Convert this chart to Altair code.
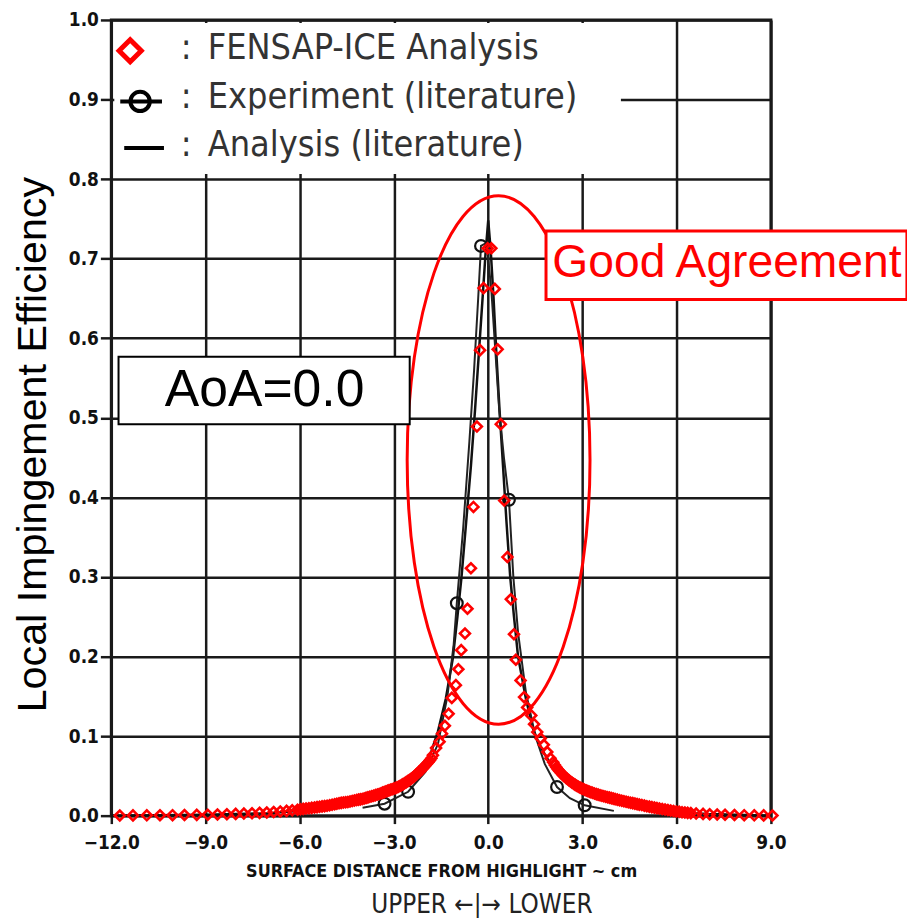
import altair as alt
import pandas as pd

# ---------------- data ----------------
# FENSAP-ICE analysis (red open diamonds)
fensap_x = [
    -11.73, -11.31, -10.87, -10.45, -10.05, -9.67, -9.28, -8.93, -8.62, -8.32,
    -8.04, -7.78, -7.52, -7.28, -7.05, -6.83, -6.62, -6.42, -6.24, -6.07,
    -5.98, -5.89, -5.80, -5.71, -5.62, -5.53, -5.45, -5.37, -5.29, -5.21,
    -5.13, -5.05, -4.97, -4.89, -4.82, -4.75, -4.68, -4.61, -4.54, -4.47,
    -4.40, -4.33, -4.26, -4.19, -4.13, -4.07, -4.01, -3.95, -3.89, -3.83,
    -3.77, -3.71, -3.65, -3.59, -3.53, -3.47, -3.41, -3.36, -3.31, -3.26,
    -3.21, -3.16, -3.11, -3.06, -3.01, -2.96, -2.91, -2.86, -2.81, -2.76,
    -2.71, -2.66, -2.61, -2.56, -2.51, -2.46, -2.41, -2.36, -2.31, -2.26,
    -2.21, -2.16, -2.11, -2.06, -2.01, -1.96, -1.91, -1.86, -1.81,
    -1.76, -1.66, -1.55, -1.47, -1.38, -1.26, -1.16, -1.03,
    -0.95, -0.86, -0.74, -0.66, -0.55, -0.47, -0.36, -0.26, -0.15, -0.02,
    0.10, 0.21, 0.30, 0.40, 0.51, 0.61, 0.72, 0.82, 0.88, 1.03,
    1.14, 1.24, 1.37, 1.46, 1.56, 1.67, 1.77, 1.88, 1.98, 2.07,
    2.12, 2.17, 2.22, 2.27, 2.32, 2.37, 2.42, 2.47, 2.52, 2.57,
    2.62, 2.67, 2.72, 2.77, 2.82, 2.87, 2.92, 2.97, 3.02, 3.07,
    3.12, 3.17, 3.22, 3.27, 3.32, 3.38, 3.44, 3.50, 3.56, 3.62,
    3.68, 3.74, 3.80, 3.86, 3.92, 3.98, 4.04, 4.11, 4.18, 4.25,
    4.32, 4.39, 4.46, 4.53, 4.60, 4.67, 4.74, 4.81, 4.89, 4.97,
    5.05, 5.13, 5.21, 5.29, 5.37, 5.45, 5.54, 5.63, 5.72, 5.81,
    5.90, 5.99, 6.08, 6.17, 6.26, 6.35,
    6.45, 6.62, 6.84, 7.05, 7.29, 7.54, 7.84, 8.15, 8.47, 8.77, 9.05,
]
fensap_y = [
    0.0002, 0.0003, 0.0004, 0.0005, 0.0006, 0.0008, 0.0010, 0.0012, 0.0015, 0.0018,
    0.0022, 0.0026, 0.0030, 0.0035, 0.0040, 0.0046, 0.0053, 0.0060, 0.0068, 0.0075,
    0.0081, 0.0085, 0.0089, 0.0093, 0.0098, 0.0102, 0.0107, 0.0111, 0.0116, 0.0120,
    0.0125, 0.0130, 0.0137, 0.0143, 0.0149, 0.0155, 0.0160, 0.0165, 0.0168, 0.0172,
    0.0178, 0.0184, 0.0190, 0.0196, 0.0201, 0.0205, 0.0209, 0.0216, 0.0223, 0.0230,
    0.0237, 0.0244, 0.0251, 0.0258, 0.0265, 0.0273, 0.0281, 0.0289, 0.0296, 0.0304,
    0.0311, 0.0318, 0.0325, 0.0332, 0.0339, 0.0346, 0.0354, 0.0363, 0.0373, 0.0384,
    0.0396, 0.0408, 0.0421, 0.0434, 0.0447, 0.0461, 0.0476, 0.0492, 0.0510, 0.0528,
    0.0547, 0.0566, 0.0585, 0.0605, 0.0626, 0.0648, 0.0670, 0.0694, 0.0720,
    0.076, 0.085, 0.093, 0.103, 0.113, 0.128, 0.148, 0.164,
    0.184, 0.208, 0.229, 0.260, 0.311, 0.388, 0.489, 0.585, 0.663, 0.713,
    0.713, 0.662, 0.586, 0.492, 0.396, 0.325, 0.272, 0.228, 0.196, 0.170,
    0.149, 0.136, 0.126, 0.115, 0.105, 0.097, 0.089, 0.080, 0.072, 0.067,
    0.0635, 0.0607, 0.0581, 0.0557, 0.0535, 0.0514, 0.0495, 0.0477, 0.0460, 0.0444,
    0.0429, 0.0414, 0.0400, 0.0387, 0.0375, 0.0364, 0.0353, 0.0343, 0.0334, 0.0325,
    0.0317, 0.0309, 0.0301, 0.0294, 0.0287, 0.0279, 0.0271, 0.0264, 0.0257, 0.0250,
    0.0244, 0.0238, 0.0232, 0.0226, 0.0220, 0.0214, 0.0208, 0.0201, 0.0194, 0.0187,
    0.0181, 0.0175, 0.0169, 0.0163, 0.0157, 0.0151, 0.0145, 0.0139, 0.0133, 0.0126,
    0.0119, 0.0113, 0.0107, 0.0101, 0.0095, 0.0089, 0.0083, 0.0077, 0.0071, 0.0065,
    0.0059, 0.0053, 0.0048, 0.0043, 0.0039, 0.0035,
    0.0032, 0.0027, 0.0022, 0.0018, 0.0014, 0.0011, 0.0008, 0.0006, 0.0004, 0.0003, 0.0002,
]

# Experiment (literature): measured curve and its circle markers
exp_curve_x = [-4.0, -3.3, -2.55, -2.0, -1.6, -1.3, -1.1, -1.0, -0.8, -0.6,
               -0.45, -0.32, -0.23, -0.05, 0.10, 0.20, 0.35, 0.50, 0.66, 0.80,
               0.95, 1.20, 1.50, 1.80, 2.19, 2.60, 3.07, 4.0]
exp_curve_y = [0.010, 0.015, 0.030, 0.055, 0.090, 0.150, 0.215, 0.267, 0.360, 0.470,
               0.560, 0.650, 0.716, 0.720, 0.660, 0.600, 0.510, 0.450, 0.397, 0.300,
               0.230, 0.155, 0.100, 0.065, 0.036, 0.022, 0.013, 0.006]
exp_pts_x = [-3.3, -2.55, -1.0, -0.23, 0.66, 2.19, 3.07]
exp_pts_y = [0.015, 0.030, 0.267, 0.716, 0.397, 0.036, 0.013]

# Analysis (literature): solid black line
ana_x = [-12.0, -9.0, -7.0, -6.0, -5.0, -4.0, -3.5, -3.0, -2.5, -2.2,
         -2.0, -1.8, -1.6, -1.35, -1.13, -0.98, -0.85, -0.7, -0.55, -0.42,
         -0.3, -0.18, -0.08, 0.0, 0.08, 0.17, 0.26, 0.36, 0.47, 0.58,
         0.70, 0.82, 0.95, 1.2, 1.42, 1.6, 1.8, 2.0, 2.3, 2.6,
         3.0, 3.5, 4.0, 5.0, 6.0, 7.0, 9.0]
ana_y = [0.0, 0.001, 0.003, 0.006, 0.011, 0.019, 0.025, 0.033, 0.045, 0.055,
         0.065, 0.082, 0.106, 0.147, 0.197, 0.250, 0.300, 0.370, 0.440, 0.510,
         0.580, 0.650, 0.710, 0.748, 0.710, 0.650, 0.580, 0.510, 0.440, 0.370,
         0.300, 0.250, 0.200, 0.147, 0.110, 0.092, 0.077, 0.064, 0.050, 0.040,
         0.030, 0.022, 0.016, 0.008, 0.004, 0.002, 0.0]

x_ticks = [-12, -9, -6, -3, 0, 3, 6, 9]
y_ticks = [0.0, 0.1, 0.2, 0.3, 0.4, 0.5, 0.6, 0.7, 0.8, 0.9, 1.0]

legend_labels = ["FENSAP-ICE Analysis", "Experiment (literature)", "Analysis (literature)"]

# ---------------- frames ----------------
fensap = pd.DataFrame({"x": fensap_x, "y": fensap_y})
exp_curve = pd.DataFrame({"x": exp_curve_x, "y": exp_curve_y})
exp_pts = pd.DataFrame({"x": exp_pts_x, "y": exp_pts_y})
ana = pd.DataFrame({"x": ana_x, "y": ana_y})
one = pd.DataFrame({"k": [0]})

LABEL_FONT = "DejaVu Sans Condensed, DejaVu Sans"
NARROW = "DejaVu Sans Condensed, sans-serif"
ARIAL = "Liberation Sans, Arial, sans-serif"

xs = alt.Scale(domain=[-12, 9], nice=False, zero=False)
ys = alt.Scale(domain=[0, 1], nice=False, zero=False)

x_axis = alt.Axis(
    values=x_ticks, format=".1f", grid=True, gridColor="#1a1a1a", gridWidth=2.5,
    domain=False, ticks=True, tickSize=8, tickWidth=2.5, tickColor="#1a1a1a",
    labelFont=LABEL_FONT, labelFontWeight="bold", labelFontSize=19, labelColor="#111",
    labelPadding=10, labelFlush=False,
    title="SURFACE DISTANCE FROM HIGHLIGHT ~ cm", titleFont=LABEL_FONT,
    titleFontWeight="bold", titleFontSize=18, titleColor="#111",
    titleY=56, titleBaseline="middle",
)
y_axis = alt.Axis(
    values=y_ticks, format=".1f", grid=True, gridColor="#1a1a1a", gridWidth=2.5,
    domain=False, ticks=True, tickSize=11, tickWidth=2.5, tickColor="#1a1a1a",
    labelFont=LABEL_FONT, labelFontWeight="bold", labelFontSize=19, labelColor="#111",
    labelPadding=2,
    title="Local Impingement Efficiency", titleFont=ARIAL, titleFontWeight="normal",
    titleFontSize=41.5, titleColor="black", titleX=-78, titleY=427, titleBaseline="middle",
)

X = alt.X("x:Q", scale=xs, axis=x_axis)
Y = alt.Y("y:Q", scale=ys, axis=y_axis)

ana_line = alt.Chart(ana).mark_line(color="#111", strokeWidth=2.5).encode(x=X, y=Y)
exp_line = alt.Chart(exp_curve).mark_line(color="#222", strokeWidth=2).encode(x="x:Q", y="y:Q")
exp_marks = alt.Chart(exp_pts).mark_point(
    shape="circle", filled=False, color="#111", strokeWidth=2.2, size=140, opacity=1
).encode(x="x:Q", y="y:Q")
diamonds = alt.Chart(fensap).mark_point(
    shape="diamond", filled=False, color="#ff0000", strokeWidth=2.6, size=100, opacity=1
).encode(x="x:Q", y="y:Q")

# red ellipse around the peak (centre and extent in data units)
ell = pd.DataFrame({"x": [0.33], "y": [0.447]})
ellipse = alt.Chart(ell).mark_point(
    shape="M-0.346,0 A0.346,1 0 1,1 0.346,0 A0.346,1 0 1,1 -0.346,0 Z",
    filled=False, color="#ff0000", strokeWidth=3, size=283024, opacity=1,
).encode(x="x:Q", y="y:Q")

# annotation boxes
aoa_box = pd.DataFrame({"x": [-11.77], "x2": [-2.5], "y": [0.4919], "y2": [0.5766]})
aoa_rect = alt.Chart(aoa_box).mark_rect(fill="white", stroke="black", strokeWidth=2).encode(
    x="x:Q", x2="x2", y="y:Q", y2="y2")
aoa_text = alt.Chart(pd.DataFrame({"x": [-7.12], "y": [0.535], "t": ["AoA=0.0"]})).mark_text(
    font=ARIAL, fontSize=52, color="black", align="center", baseline="middle"
).encode(x="x:Q", y="y:Q", text="t:N")

good_box = pd.DataFrame({"x": [1.84], "x2": [13.33], "y": [0.6488], "y2": [0.7347]})
good_rect = alt.Chart(good_box).mark_rect(fill="white", stroke="#ff0000", strokeWidth=3).encode(
    x="x:Q", x2="x2", y="y:Q", y2="y2")
good_text = alt.Chart(pd.DataFrame({"x": [7.6], "y": [0.694], "t": ["Good Agreement"]})).mark_text(
    font=ARIAL, fontSize=46.5, color="#ff0000", align="center", baseline="middle"
).encode(x="x:Q", y="y:Q", text="t:N")

# legend (drawn by hand inside the plot)
leg_bg = alt.Chart(one).mark_rect(fill="white", stroke=None).encode(
    x=alt.value(3), x2=alt.value(513), y=alt.value(3), y2=alt.value(155))
leg_diamond = alt.Chart(one).mark_point(
    shape="diamond", filled=False, color="#ff0000", strokeWidth=5, size=500, opacity=1
).encode(x=alt.value(19), y=alt.value(31))
leg_exp_rule = alt.Chart(one).mark_rule(color="black", strokeWidth=4).encode(
    x=alt.value(9), x2=alt.value(51), y=alt.value(82))
leg_exp_circle = alt.Chart(one).mark_point(
    shape="circle", filled=False, color="black", strokeWidth=4, size=380, opacity=1
).encode(x=alt.value(29), y=alt.value(82))
leg_ana_rule = alt.Chart(one).mark_rule(color="black", strokeWidth=4).encode(
    x=alt.value(13), x2=alt.value(53), y=alt.value(129))

leg_df = pd.DataFrame({"t": legend_labels, "yy": [28, 78, 126]})
leg_colons = alt.Chart(leg_df).mark_text(
    font=NARROW, fontSize=36, color="#333", align="left", baseline="middle"
).encode(x=alt.value(70), y=alt.Y("yy:Q", scale=None), text=alt.value(":"))
leg_text = alt.Chart(leg_df).mark_text(
    font=NARROW, fontSize=36, color="#333", align="left", baseline="middle"
).encode(x=alt.value(97), y=alt.Y("yy:Q", scale=None), text="t:N")

upper_text = alt.Chart(one).mark_text(
    font=NARROW, fontSize=26, color="#222", align="center", baseline="middle"
).encode(x=alt.value(373), y=alt.value(891), text=alt.value("UPPER ←|→ LOWER"))

chart = alt.layer(
    ana_line, exp_line, exp_marks, diamonds, ellipse,
    aoa_rect, aoa_text, good_rect, good_text,
    leg_bg, leg_diamond, leg_exp_rule, leg_exp_circle, leg_ana_rule, leg_colons, leg_text,
    upper_text,
).properties(
    width=664, height=801,
    autosize=alt.AutoSizeParams(type="none"),
    padding={"left": 104, "top": 9, "right": 137, "bottom": 100},
    background="white",
).configure_view(stroke="#1a1a1a", strokeWidth=3)

chart.save("out.html", embed_options={"renderer": "svg", "actions": False})
